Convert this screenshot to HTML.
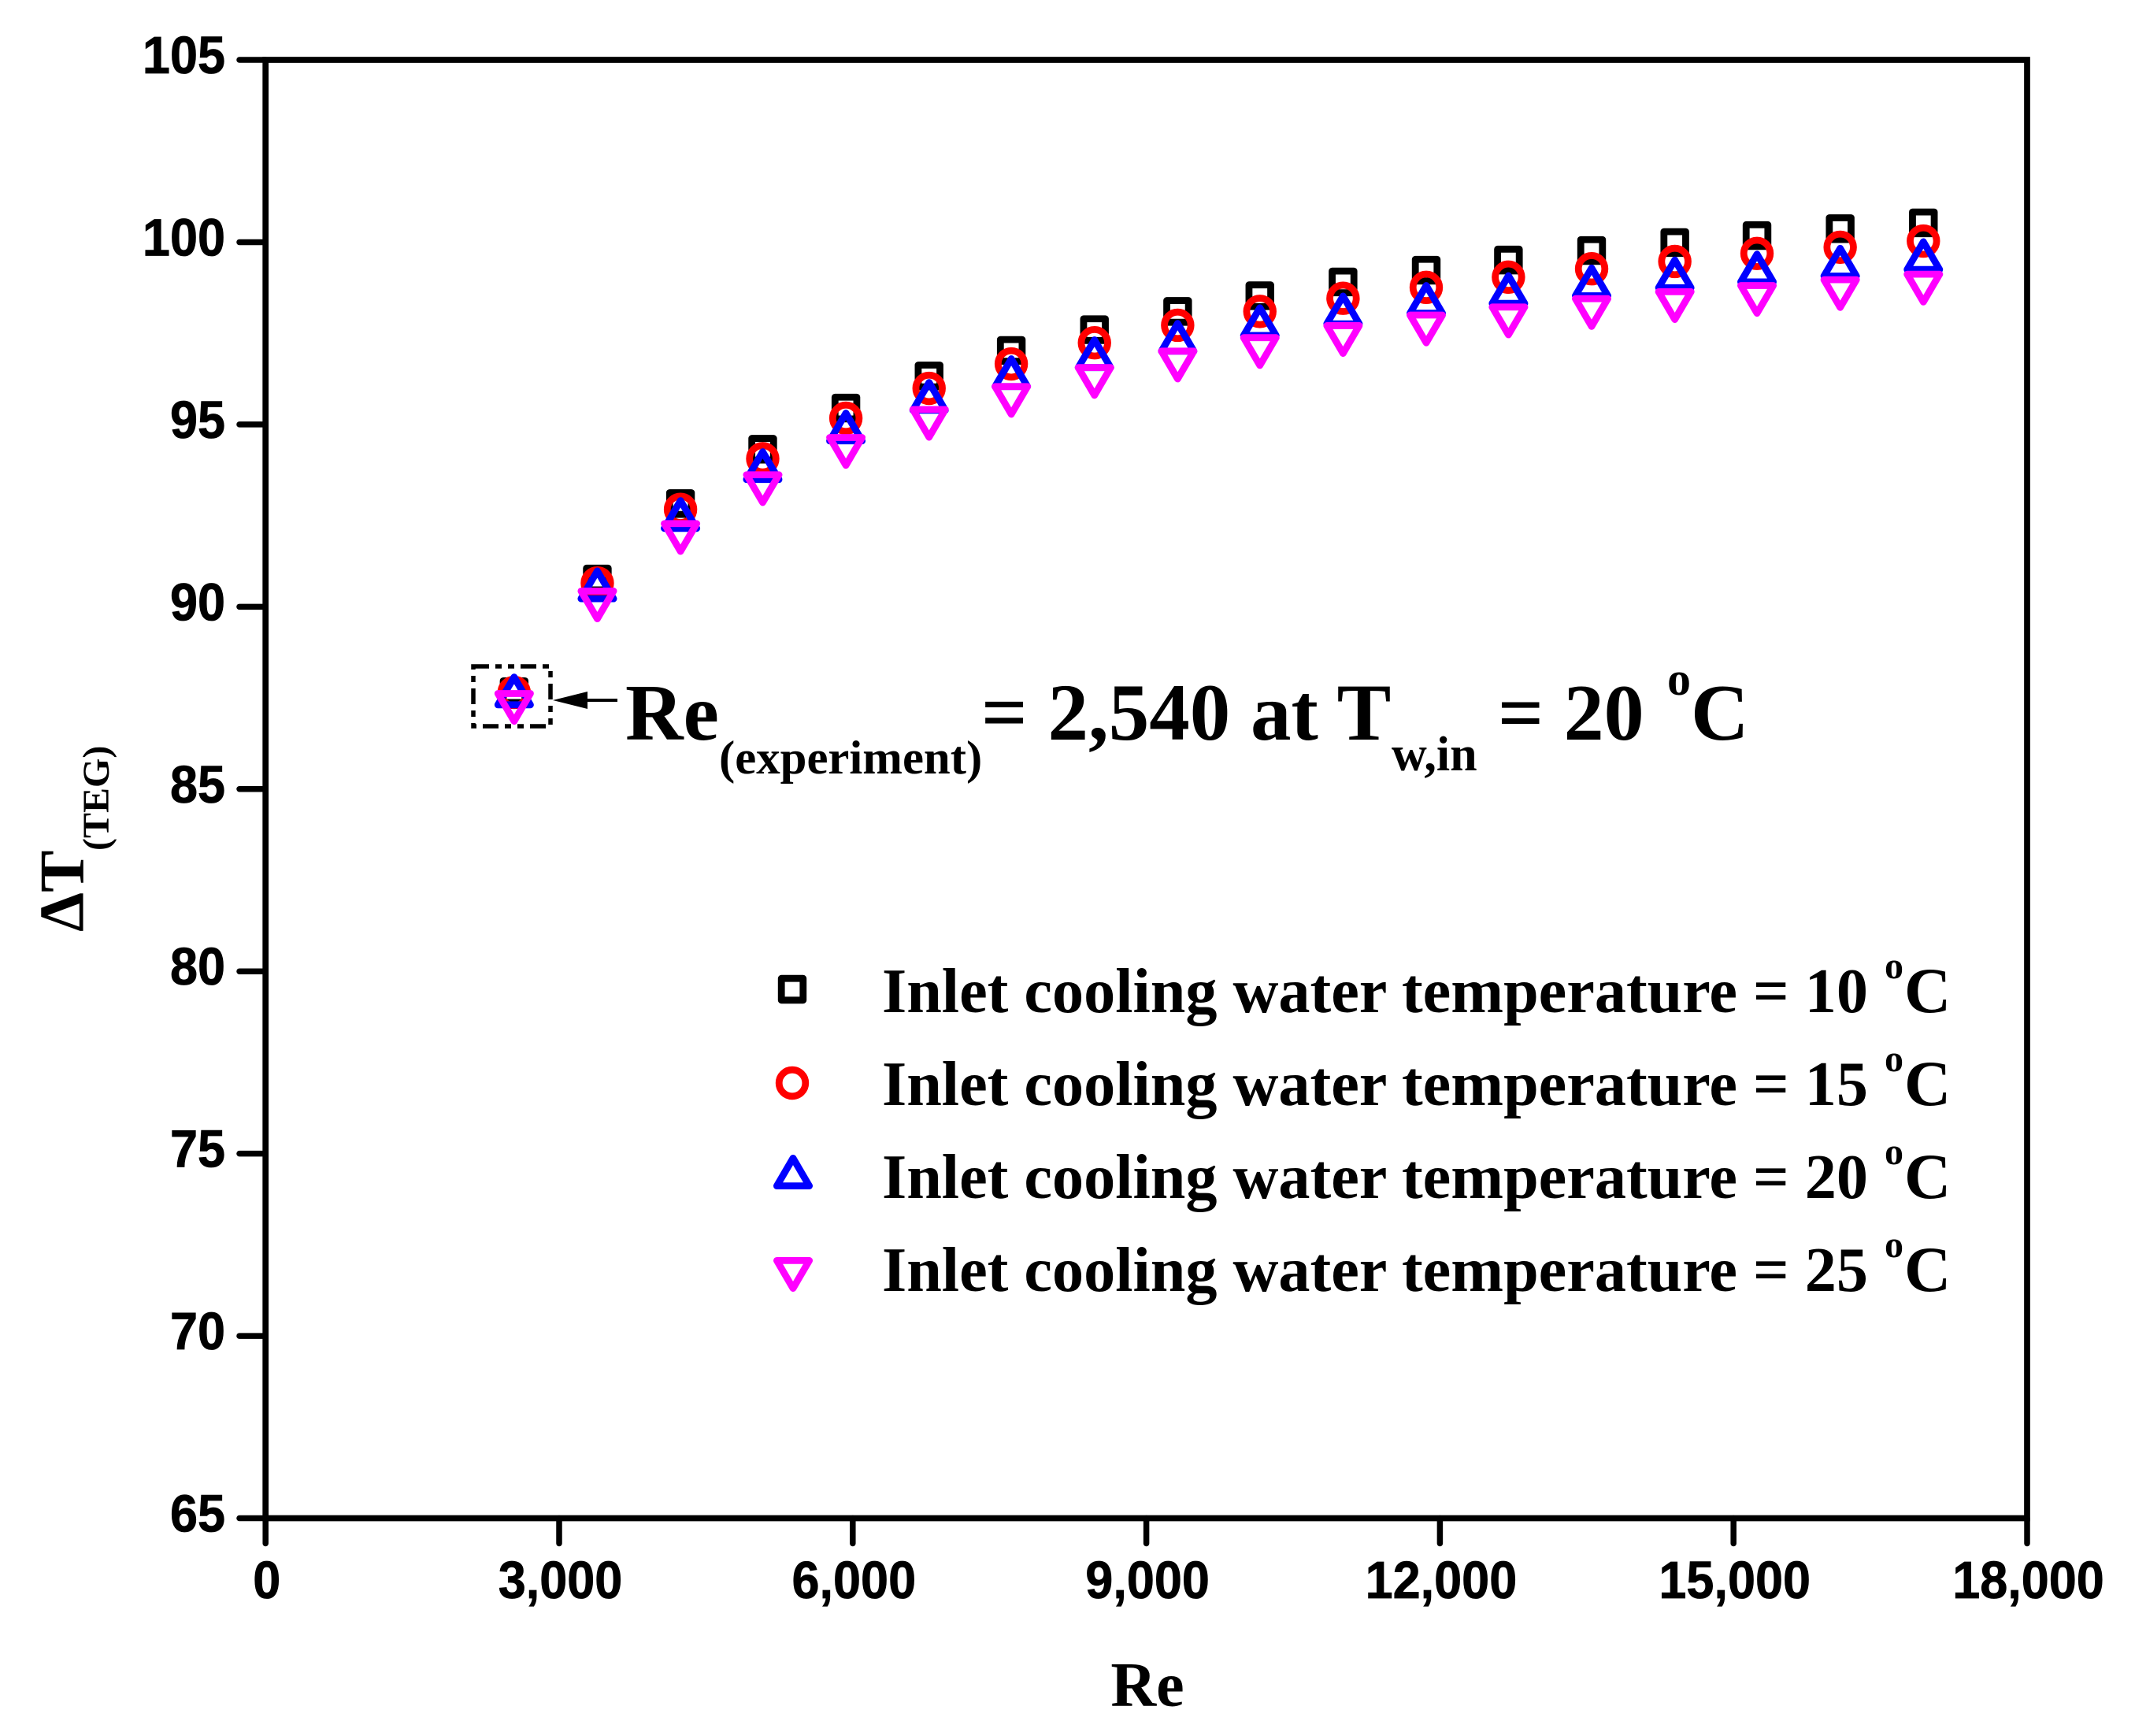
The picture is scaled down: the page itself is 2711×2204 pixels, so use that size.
<!DOCTYPE html>
<html lang="en">
<head>
<meta charset="utf-8">
<title>Delta T of TEG vs Reynolds number</title>
<style>
html,body{margin:0;padding:0;background:#fff;}
svg{display:block;}
.tick{font-family:"Liberation Sans",Arial,sans-serif;font-weight:bold;font-size:67px;fill:#000;stroke:#000;stroke-width:0.8;}
.serif{font-family:"Liberation Serif","Times New Roman",serif;font-weight:bold;fill:#000;}
</style>
</head>
<body>
<svg id="chart" xmlns="http://www.w3.org/2000/svg" width="2711" height="2204" viewBox="0 0 2711 2204">
  <rect x="0" y="0" width="2711" height="2204" fill="#fff"/>
  <g id="axes"></g>
  <g id="marks"></g>

  <text class="serif" x="1457" y="2166" font-size="80" text-anchor="middle">Re</text>
  <g>
    <text class="serif" font-size="80" transform="translate(105.7 1183) rotate(-90)">ΔT</text>
    <text class="serif" font-size="48" transform="translate(138 1080) rotate(-90)">(TEG)</text>
  </g>

  <g>
    <rect x="601" y="846" width="98" height="76" fill="none" stroke="#000" stroke-width="5.5" stroke-dasharray="20 8 8 8 8 8"/>
    <polygon points="702,889 746,878 746,900" fill="#000"/>
    <line x1="740" y1="889" x2="784" y2="889" stroke="#000" stroke-width="4"/>
    <text class="serif" font-size="102" x="794" y="939">Re</text>
    <text class="serif" font-size="60.8" x="913" y="982">(experiment)</text>
    <text class="serif" font-size="103" x="1246" y="939" xml:space="preserve">= 2,540 at T</text>
    <text class="serif" font-size="62" x="1767" y="978">w,in</text>
    <text class="serif" font-size="102" x="1902" y="939">= 20</text>
    <text class="serif" font-size="60" x="2117" y="882">o</text>
    <text class="serif" font-size="102" x="2147" y="939">C</text>
  </g>

  <g id="legend">
    <g>
      <text class="serif" font-size="80.2" x="1120" y="1285">Inlet cooling water temperature = 10</text>
      <text class="serif" font-size="48" x="2393" y="1242">o</text>
      <text class="serif" font-size="82" x="2418" y="1285">C</text>
    </g>
    <g>
      <text class="serif" font-size="80.2" x="1120" y="1403">Inlet cooling water temperature = 15</text>
      <text class="serif" font-size="48" x="2393" y="1360">o</text>
      <text class="serif" font-size="82" x="2418" y="1403">C</text>
    </g>
    <g>
      <text class="serif" font-size="80.2" x="1120" y="1521">Inlet cooling water temperature = 20</text>
      <text class="serif" font-size="48" x="2393" y="1478">o</text>
      <text class="serif" font-size="82" x="2418" y="1521">C</text>
    </g>
    <g>
      <text class="serif" font-size="80.2" x="1120" y="1639">Inlet cooling water temperature = 25</text>
      <text class="serif" font-size="48" x="2393" y="1596">o</text>
      <text class="serif" font-size="82" x="2418" y="1639">C</text>
    </g>
  </g>
</svg>
<script>
const reynolds = [2540,3390,4240,5080,5930,6780,7620,8470,9320,10160,11010,11860,12700,13550,14400,15240,16090,16940];
const inlet10 = [87.67,90.76,92.83,94.32,95.45,96.33,97.03,97.60,98.10,98.53,98.91,99.23,99.51,99.77,99.99,100.18,100.37,100.53];
const inlet15 = [87.65,90.65,92.67,94.06,95.17,95.99,96.66,97.24,97.72,98.10,98.46,98.76,99.04,99.27,99.47,99.69,99.86,100.03];
const inlet20 = [87.69,90.60,92.53,93.87,94.93,95.77,96.42,96.94,97.39,97.82,98.14,98.43,98.70,98.91,99.13,99.29,99.45,99.63];
const inlet25 = [87.24,90.05,91.90,93.24,94.26,95.03,95.66,96.18,96.63,97.00,97.33,97.62,97.84,98.07,98.26,98.43,98.59,98.74];
const xTicks = [0,3000,6000,9000,12000,15000,18000];
const xTickLabels = ['0','3,000','6,000','9,000','12,000','15,000','18,000'];
const yTicks = [65,70,75,80,85,90,95,100,105];
const yTickLabels = ['65','70','75','80','85','90','95','100','105'];

const NS = 'http://www.w3.org/2000/svg';
const plot = {left:337.2, right:2574, top:76, bottom:1927.5, xMin:0, xMax:18000, yMin:65, yMax:105};
function xScale(v){ return plot.left + (v-plot.xMin)/(plot.xMax-plot.xMin)*(plot.right-plot.left); }
function yScale(v){ return plot.bottom - (v-plot.yMin)/(plot.yMax-plot.yMin)*(plot.bottom-plot.top); }
function make(tag, attrs){
  const el = document.createElementNS(NS, tag);
  for (const k in attrs) el.setAttribute(k, attrs[k]);
  return el;
}

const axes = document.getElementById('axes');
const frame = make('rect', {x:plot.left, y:plot.top, width:plot.right-plot.left, height:plot.bottom-plot.top, fill:'none', stroke:'#000', 'stroke-width':7.7});


axes.appendChild(frame);

xTicks.forEach(function(v,i){
  const x = xScale(v);
  const t = make('line', {x1:x, y1:plot.bottom, x2:x, y2:1959.5, stroke:'#000', 'stroke-width':7.5, 'stroke-linecap':'round'});
  
  
  axes.appendChild(t);
  const l = make('text', {'text-anchor':'middle', class:'tick', transform:'translate('+(x+1.5)+' 2029) scale(0.94 1)'});
  
  
  l.textContent = xTickLabels[i];
  axes.appendChild(l);
});
yTicks.forEach(function(v,i){
  const y = yScale(v);
  const t = make('line', {x1:plot.left, y1:y, x2:304, y2:y, stroke:'#000', 'stroke-width':7.5, 'stroke-linecap':'round'});
  
  
  axes.appendChild(t);
  const l = make('text', {'text-anchor':'end', class:'tick', transform:'translate(286 '+(y+17)+') scale(0.94 1)'});
  
  
  l.textContent = yTickLabels[i];
  axes.appendChild(l);
});

function markerShape(kind, cx, cy, color){
  const common = {fill:'none', stroke:color, 'stroke-width':8.8, 'stroke-linejoin':'round'};
  let el;
  if (kind === 'square') {
    el = make('rect', Object.assign({x:cx-13.8, y:cy-13.8, width:27.6, height:27.6}, common));
  } else if (kind === 'circle') {
    el = make('circle', Object.assign({cx:cx, cy:cy, r:16.8}, common));
  } else if (kind === 'up') {
    el = make('polygon', Object.assign({points:(cx)+','+(cy-17.6)+' '+(cx+20.6)+','+(cy+17.6)+' '+(cx-20.6)+','+(cy+17.6)}, common));
  } else {
    el = make('polygon', Object.assign({points:(cx)+','+(cy+17.6)+' '+(cx+20.6)+','+(cy-17.6)+' '+(cx-20.6)+','+(cy-17.6)}, common));
  }
  return el;
}

const marks = document.getElementById('marks');
function drawSeries(values, kind, color, name){
  const g = make('g', {});
  
  
  values.forEach(function(v,i){
    const m = markerShape(kind, xScale(reynolds[i]), yScale(v), color);
    
    
    g.appendChild(m);
  });
  marks.appendChild(g);
}
drawSeries(inlet10, 'square', '#000000', 'series-inlet-10c');
drawSeries(inlet15, 'circle', '#ff0000', 'series-inlet-15c');
drawSeries(inlet20, 'up', '#0000ff', 'series-inlet-20c');
drawSeries(inlet25, 'down', '#ff00ff', 'series-inlet-25c');

const legend = document.getElementById('legend');
const sq = markerShape('square', 1006, 1256, '#000000');


legend.appendChild(sq);
const ci = markerShape('circle', 1006, 1375, '#ff0000');


legend.appendChild(ci);
const up = markerShape('up', 1007, 1488, '#0000ff');


legend.appendChild(up);
const dn = markerShape('down', 1007, 1618, '#ff00ff');


legend.appendChild(dn);
</script>
</body>
</html>
